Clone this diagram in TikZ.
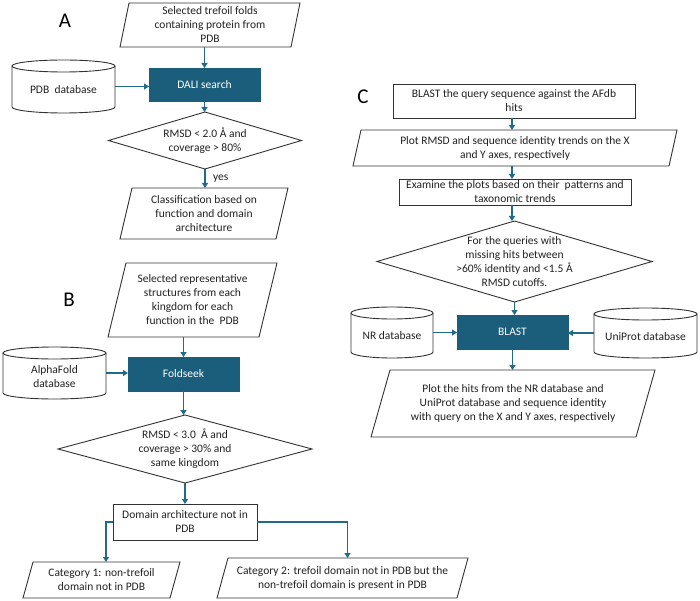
\documentclass[tikz,border=0pt]{standalone}
\usepackage{fontspec}
\setmainfont{Carlito}
\usetikzlibrary{arrows.meta,calc}
\definecolor{procfill}{HTML}{1B5E7B}
\definecolor{arrc}{HTML}{216A8A}
\definecolor{edgec}{HTML}{333333}
\definecolor{txtc}{HTML}{222222}
\newcommand\paraShape[2]{\draw[outl] ([xshift=#2]#1.north west) -- (#1.north east) -- ([xshift=-#2]#1.south east) -- (#1.south west) -- cycle;}
\newcommand\diaShape[1]{\draw[outl] (#1.north) -- (#1.east) -- (#1.south) -- (#1.west) -- cycle;}
\newcommand\cylShape[2]{%
  \draw[outl] ([yshift=-6pt]#1.north west) -- ([yshift=6pt]#1.south west)
     arc[start angle=180, end angle=360, x radius=#2, y radius=6pt]
     -- ([yshift=-6pt]#1.north east);
  \draw[outl] ([yshift=-6pt]#1.north) ellipse[x radius=#2, y radius=6pt];}
\begin{document}
\begin{tikzpicture}[x=1pt,y=-1pt,
  every node/.style={inner sep=0pt, outer sep=0pt, align=center, text=txtc,
     font=\fontsize{11.5}{14}\selectfont},
  sz/.style 2 args={minimum width=#1pt, minimum height=#2pt},
  shp/.style={draw=none},
  rbox/.style={draw=edgec, line width=0.9pt},
  proc/.style={draw=procfill, fill=procfill, text=white},
  outl/.style={draw=edgec, line width=0.9pt},
  panel/.style={font=\fontsize{21}{24}\selectfont, text=black},
  dbtext/.style={label={[yshift=-3.5pt, align=center, text=txtc]center:{#1}}},
  arr/.style={draw=arrc, line width=1.8pt, -{Triangle[length=5pt,width=6pt]}}]
\fill[white] (0,0) rectangle (700,601);
\useasboundingbox (0,0) rectangle (700,601);

% ---------- Panel A ----------
\node[panel] (labA) at (65,21) {A};
\node[shp, sz={180}{44}] (a1) at (210,25) {Selected trefoil folds\\containing protein from\\PDB};
\paraShape{a1}{9pt}
\node[proc, sz={111}{33}] (dali) at (204.5,84.5) {DALI search};
\node[shp, sz={103}{53}, dbtext={PDB\ \ database}] (pdb) at (63.5,86.5) {};
\cylShape{pdb}{51.5pt}
\node[shp, sz={193}{57}] (d1) at (205,140.5) {RMSD < 2.0 Å and\\coverage > 80\%};
\diaShape{d1}
\node[shp, sz={168}{51}] (a2) at (204,213.5) {Classification based on\\function and domain\\architecture};
\paraShape{a2}{12pt}

\draw[arr] (a1.south -| dali.north) -- (dali.north);
\draw[arr] (pdb.east) -- (pdb.east -| dali.west);
\draw[arr] (dali.south) -- (dali.south |- d1.north);
\draw[arr] (d1.south) -- (d1.south |- a2.north) node[midway, right=8pt] (yes) {yes};

% ---------- Panel B ----------
\node[panel] (labB) at (69,300) {B};
\node[shp, sz={169}{74}] (b1) at (192.5,300) {Selected representative\\structures from each\\kingdom for each\\function in the\ \ PDB};
\paraShape{b1}{18pt}
\node[proc, sz={111}{34}] (fold) at (183.5,374) {Foldseek};
\node[shp, sz={103}{52}, dbtext={AlphaFold\\database}] (af) at (54.5,373) {};
\cylShape{af}{51.5pt}
\node[shp, sz={254}{68}] (d2) at (185,449) {RMSD < 3.0\ \ Å and\\coverage > 30\% and\\same kingdom};
\diaShape{d2}
\node[rbox, sz={144}{36}] (dom) at (185,522) {Domain architecture not in\\PDB};
\node[shp, sz={157}{36}] (c1) at (101.5,580) {Category 1: non-trefoil\\domain not in PDB};
\paraShape{c1}{10pt}
\node[shp, sz={251}{40}] (c2) at (342.5,578) {Category 2: trefoil domain not in PDB but the\\non-trefoil domain is present in PDB};
\paraShape{c2}{11pt}

\draw[arr] (b1.south -| fold.north) -- (fold.north);
\draw[arr] (af.east) -- (af.east -| fold.west);
\draw[arr] (fold.south) -- (fold.south |- d2.north);
\draw[arr] (d2.south) -- (d2.south |- dom.north);
\draw[arr] (dom.west) -| ($(c1.north)+(4.5,0)$);
\draw[arr] (dom.east) -| ($(c2.north)+(5,0)$);

% ---------- Panel C ----------
\node[panel] (labC) at (363,97) {C};
\node[rbox, sz={242}{34}] (q1) at (514,101) {BLAST the query sequence against the AFdb\\hits};
\node[shp, sz={324}{36}] (q2) at (515,148) {Plot RMSD and sequence identity trends on the X\\and Y axes, respectively};
\paraShape{q2}{8pt}
\node[rbox, sz={232}{26}] (q3) at (515,192) {Examine the plots based on their\ \ patterns and\\taxonomic trends};
\node[shp, sz={275}{81}] (d3) at (514.5,261.5) {For the queries with\\missing hits between\\>60\% identity and <1.5 Å\\RMSD cutoffs.};
\diaShape{d3}
\node[proc, sz={111}{34}] (blast) at (512.5,332) {BLAST};
\node[shp, sz={82}{51}, dbtext={NR database}] (nr) at (392,332.5) {};
\cylShape{nr}{41pt}
\node[shp, sz={103}{50}, dbtext={UniProt database}] (up) at (645.5,333) {};
\cylShape{up}{51.5pt}
\node[shp, sz={284}{67}] (q4) at (513,403.5) {Plot the hits from the NR database and\\UniProt database and sequence identity\\with query on the X and Y axes, respectively};
\paraShape{q4}{19pt}

\draw[arr] ([xshift=-2pt]q1.south) -- ([xshift=-2pt]q1.south |- q2.north);
\draw[arr] ([xshift=-2pt]q1.south |- q2.south) -- ([xshift=-2pt]q1.south |- q3.north);
\draw[arr] ([xshift=-2pt]q1.south |- q3.south) -- ([xshift=-2pt]q1.south |- d3.north);
\draw[arr] (d3.south) -- (d3.south |- blast.north);
\draw[arr] (nr.east) -- (nr.east -| blast.west);
\draw[arr] (up.west) -- (up.west -| blast.east);
\draw[arr] (blast.south) -- (blast.south |- q4.north);
\end{tikzpicture}
\end{document}
